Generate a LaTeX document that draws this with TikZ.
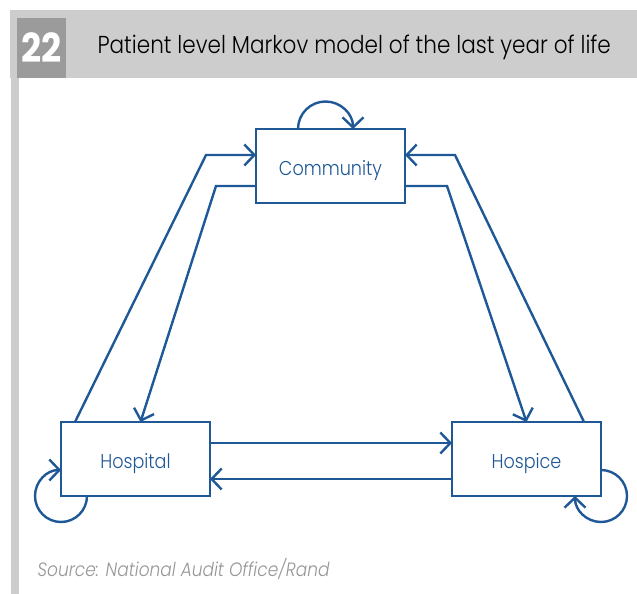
\documentclass[tikz,border=0pt]{standalone}
\usepackage{fontspec}
\setmainfont[FakeStretch=0.88, UprightFont=* Light, BoldFont=* Bold, ItalicFont=* Light Italic]{Poppins}
\usetikzlibrary{arrows.meta}
\definecolor{naoblue}{RGB}{30,88,150}
\definecolor{bandgray}{RGB}{205,205,205}
\definecolor{numgray}{RGB}{155,155,155}
\definecolor{srcgray}{RGB}{150,150,150}

\begin{document}
\begin{tikzpicture}[x=1pt, y=-1pt,
        state/.style={draw=naoblue, line width=2.8pt, minimum width=149pt, minimum height=74pt,
            inner sep=0pt, outer sep=0pt, text height=21pt, text depth=2pt,
            text=naoblue, font=\fontsize{20}{24}\selectfont},
        link/.style={naoblue, line width=2.4pt, -{Straight Barb[length=10pt,width=21pt]}}]
        % Canvas
        \useasboundingbox (0,0) rectangle (637,594);

        % Header band and side bar
        \fill[bandgray] (10,10) rectangle (637,78);
        \fill[bandgray] (11,78) rectangle (19,594);
        \fill[numgray] (17,18) rectangle (66,78);
        \node[white, font=\bfseries\fontsize{40}{40}\selectfont] (num) at (41.5,48) {22};
        \node[anchor=base west, font=\fontsize{24.5}{29}\selectfont] (title) at (94,54) {Patient level Markov model of the last year of life};

        % States
        \node[state] (comm) at (330.5,166) {Community};
        \node[state] (hosp) at (135.5,459) {Hospital};
        \node[state] (hospice) at (526.5,459) {Hospice};

        % Bends of the side links
        \coordinate (lo) at (206,155);
        \coordinate (li) at (216,186);
        \coordinate (ri) at (447,186);
        \coordinate (ro) at (455,155);

        % Links between states
        \draw[link] ([xshift=14pt]hosp.north west) -- (lo) -- (lo -| comm.west);
        \draw[link] (li -| comm.west) -- (li) -- ([xshift=5pt]hosp.north);
        \draw[link] (ri -| comm.east) -- (ri) -- (hospice.north);
        \draw[link] ([xshift=-17pt]hospice.north east) -- (ro) -- (ro -| comm.east);
        \draw[link] ([yshift=16pt]hosp.east) -- ([yshift=16pt]hospice.west);
        \draw[link] ([yshift=-20pt]hospice.west) -- ([yshift=-20pt]hosp.east);

        % Staying in the same state
        \draw[link] ([xshift=-32.5pt]comm.north) arc[start angle=180, end angle=0, radius=27.5pt];
        \draw[link] ([xshift=26pt]hosp.south west) arc[start angle=0, end angle=-270, radius=26pt];
        \draw[link] ([yshift=26pt]hospice.south east) arc[start angle=90, end angle=-180, radius=26pt];

        % Source
        \node[anchor=base west, srcgray, font=\itshape\fontsize{19.3}{23}\selectfont] (src) at (34,576) {Source: National Audit Office/Rand};
    \end{tikzpicture}
\end{document}
